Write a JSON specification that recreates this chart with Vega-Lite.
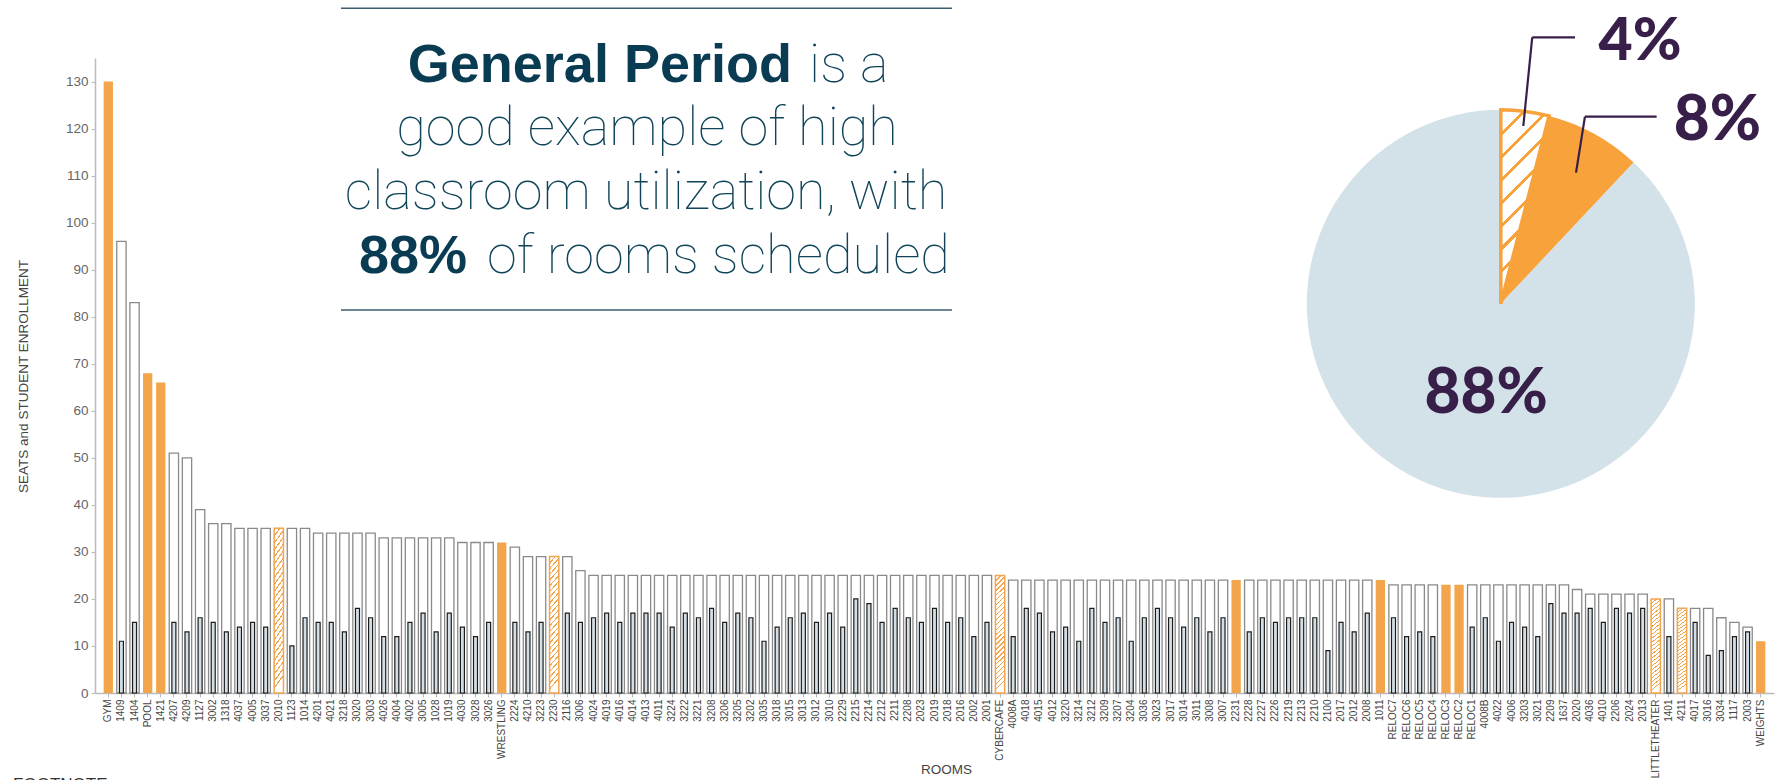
{
  "$schema": "https://vega.github.io/schema/vega-lite/v6.json",
  "width": 1679,
  "height": 635,
  "autosize": "none",
  "padding": {"left": 95, "top": 58, "right": 9, "bottom": 87},
  "background": "#ffffff",
  "config": {"view": {"stroke": null}, "font": "Liberation Sans"},
  "resolve": {"scale": {"x": "independent", "y": "independent"}},
  "layer": [
    {
      "data": {"values": [
        {"room":"GYM","seats":130,"status":"unscheduled"},
        {"room":"1409","seats":96,"enrolled":11,"status":"scheduled"},
        {"room":"1404","seats":83,"enrolled":15,"status":"scheduled"},
        {"room":"POOL","seats":68,"status":"unscheduled"},
        {"room":"1421","seats":66,"status":"unscheduled"},
        {"room":"4207","seats":51,"enrolled":15,"status":"scheduled"},
        {"room":"4209","seats":50,"enrolled":13,"status":"scheduled"},
        {"room":"1127","seats":39,"enrolled":16,"status":"scheduled"},
        {"room":"3002","seats":36,"enrolled":15,"status":"scheduled"},
        {"room":"1318","seats":36,"enrolled":13,"status":"scheduled"},
        {"room":"4037","seats":35,"enrolled":14,"status":"scheduled"},
        {"room":"4005","seats":35,"enrolled":15,"status":"scheduled"},
        {"room":"3037","seats":35,"enrolled":14,"status":"scheduled"},
        {"room":"2010","seats":35,"status":"other"},
        {"room":"1123","seats":35,"enrolled":10,"status":"scheduled"},
        {"room":"1014","seats":35,"enrolled":16,"status":"scheduled"},
        {"room":"4201","seats":34,"enrolled":15,"status":"scheduled"},
        {"room":"4021","seats":34,"enrolled":15,"status":"scheduled"},
        {"room":"3218","seats":34,"enrolled":13,"status":"scheduled"},
        {"room":"3020","seats":34,"enrolled":18,"status":"scheduled"},
        {"room":"3003","seats":34,"enrolled":16,"status":"scheduled"},
        {"room":"4026","seats":33,"enrolled":12,"status":"scheduled"},
        {"room":"4004","seats":33,"enrolled":12,"status":"scheduled"},
        {"room":"4002","seats":33,"enrolled":15,"status":"scheduled"},
        {"room":"3005","seats":33,"enrolled":17,"status":"scheduled"},
        {"room":"1028","seats":33,"enrolled":13,"status":"scheduled"},
        {"room":"1019","seats":33,"enrolled":17,"status":"scheduled"},
        {"room":"4030","seats":32,"enrolled":14,"status":"scheduled"},
        {"room":"3028","seats":32,"enrolled":12,"status":"scheduled"},
        {"room":"3026","seats":32,"enrolled":15,"status":"scheduled"},
        {"room":"WRESTLING","seats":32,"status":"unscheduled"},
        {"room":"2224","seats":31,"enrolled":15,"status":"scheduled"},
        {"room":"4210","seats":29,"enrolled":13,"status":"scheduled"},
        {"room":"3223","seats":29,"enrolled":15,"status":"scheduled"},
        {"room":"2230","seats":29,"status":"other"},
        {"room":"2116","seats":29,"enrolled":17,"status":"scheduled"},
        {"room":"3006","seats":26,"enrolled":15,"status":"scheduled"},
        {"room":"4024","seats":25,"enrolled":16,"status":"scheduled"},
        {"room":"4019","seats":25,"enrolled":17,"status":"scheduled"},
        {"room":"4016","seats":25,"enrolled":15,"status":"scheduled"},
        {"room":"4014","seats":25,"enrolled":17,"status":"scheduled"},
        {"room":"4013","seats":25,"enrolled":17,"status":"scheduled"},
        {"room":"4011","seats":25,"enrolled":17,"status":"scheduled"},
        {"room":"3224","seats":25,"enrolled":14,"status":"scheduled"},
        {"room":"3222","seats":25,"enrolled":17,"status":"scheduled"},
        {"room":"3221","seats":25,"enrolled":16,"status":"scheduled"},
        {"room":"3208","seats":25,"enrolled":18,"status":"scheduled"},
        {"room":"3206","seats":25,"enrolled":15,"status":"scheduled"},
        {"room":"3205","seats":25,"enrolled":17,"status":"scheduled"},
        {"room":"3202","seats":25,"enrolled":16,"status":"scheduled"},
        {"room":"3035","seats":25,"enrolled":11,"status":"scheduled"},
        {"room":"3018","seats":25,"enrolled":14,"status":"scheduled"},
        {"room":"3015","seats":25,"enrolled":16,"status":"scheduled"},
        {"room":"3013","seats":25,"enrolled":17,"status":"scheduled"},
        {"room":"3012","seats":25,"enrolled":15,"status":"scheduled"},
        {"room":"3010","seats":25,"enrolled":17,"status":"scheduled"},
        {"room":"2229","seats":25,"enrolled":14,"status":"scheduled"},
        {"room":"2215","seats":25,"enrolled":20,"status":"scheduled"},
        {"room":"2214","seats":25,"enrolled":19,"status":"scheduled"},
        {"room":"2212","seats":25,"enrolled":15,"status":"scheduled"},
        {"room":"2211","seats":25,"enrolled":18,"status":"scheduled"},
        {"room":"2208","seats":25,"enrolled":16,"status":"scheduled"},
        {"room":"2023","seats":25,"enrolled":15,"status":"scheduled"},
        {"room":"2019","seats":25,"enrolled":18,"status":"scheduled"},
        {"room":"2018","seats":25,"enrolled":15,"status":"scheduled"},
        {"room":"2016","seats":25,"enrolled":16,"status":"scheduled"},
        {"room":"2002","seats":25,"enrolled":12,"status":"scheduled"},
        {"room":"2001","seats":25,"enrolled":15,"status":"scheduled"},
        {"room":"CYBERCAFE","seats":25,"status":"other"},
        {"room":"4008A","seats":24,"enrolled":12,"status":"scheduled"},
        {"room":"4018","seats":24,"enrolled":18,"status":"scheduled"},
        {"room":"4015","seats":24,"enrolled":17,"status":"scheduled"},
        {"room":"4012","seats":24,"enrolled":13,"status":"scheduled"},
        {"room":"3220","seats":24,"enrolled":14,"status":"scheduled"},
        {"room":"3214","seats":24,"enrolled":11,"status":"scheduled"},
        {"room":"3212","seats":24,"enrolled":18,"status":"scheduled"},
        {"room":"3209","seats":24,"enrolled":15,"status":"scheduled"},
        {"room":"3207","seats":24,"enrolled":16,"status":"scheduled"},
        {"room":"3204","seats":24,"enrolled":11,"status":"scheduled"},
        {"room":"3036","seats":24,"enrolled":16,"status":"scheduled"},
        {"room":"3023","seats":24,"enrolled":18,"status":"scheduled"},
        {"room":"3017","seats":24,"enrolled":16,"status":"scheduled"},
        {"room":"3014","seats":24,"enrolled":14,"status":"scheduled"},
        {"room":"3011","seats":24,"enrolled":16,"status":"scheduled"},
        {"room":"3008","seats":24,"enrolled":13,"status":"scheduled"},
        {"room":"3007","seats":24,"enrolled":16,"status":"scheduled"},
        {"room":"2231","seats":24,"status":"unscheduled"},
        {"room":"2228","seats":24,"enrolled":13,"status":"scheduled"},
        {"room":"2227","seats":24,"enrolled":16,"status":"scheduled"},
        {"room":"2226","seats":24,"enrolled":15,"status":"scheduled"},
        {"room":"2219","seats":24,"enrolled":16,"status":"scheduled"},
        {"room":"2213","seats":24,"enrolled":16,"status":"scheduled"},
        {"room":"2210","seats":24,"enrolled":16,"status":"scheduled"},
        {"room":"2100","seats":24,"enrolled":9,"status":"scheduled"},
        {"room":"2017","seats":24,"enrolled":15,"status":"scheduled"},
        {"room":"2012","seats":24,"enrolled":13,"status":"scheduled"},
        {"room":"2008","seats":24,"enrolled":17,"status":"scheduled"},
        {"room":"1011","seats":24,"status":"unscheduled"},
        {"room":"RELOC7","seats":23,"enrolled":16,"status":"scheduled"},
        {"room":"RELOC6","seats":23,"enrolled":12,"status":"scheduled"},
        {"room":"RELOC5","seats":23,"enrolled":13,"status":"scheduled"},
        {"room":"RELOC4","seats":23,"enrolled":12,"status":"scheduled"},
        {"room":"RELOC3","seats":23,"status":"unscheduled"},
        {"room":"RELOC2","seats":23,"status":"unscheduled"},
        {"room":"RELOC1","seats":23,"enrolled":14,"status":"scheduled"},
        {"room":"4008B","seats":23,"enrolled":16,"status":"scheduled"},
        {"room":"4022","seats":23,"enrolled":11,"status":"scheduled"},
        {"room":"4006","seats":23,"enrolled":15,"status":"scheduled"},
        {"room":"3203","seats":23,"enrolled":14,"status":"scheduled"},
        {"room":"3021","seats":23,"enrolled":12,"status":"scheduled"},
        {"room":"2209","seats":23,"enrolled":19,"status":"scheduled"},
        {"room":"1637","seats":23,"enrolled":17,"status":"scheduled"},
        {"room":"2020","seats":22,"enrolled":17,"status":"scheduled"},
        {"room":"4036","seats":21,"enrolled":18,"status":"scheduled"},
        {"room":"4010","seats":21,"enrolled":15,"status":"scheduled"},
        {"room":"2206","seats":21,"enrolled":18,"status":"scheduled"},
        {"room":"2024","seats":21,"enrolled":17,"status":"scheduled"},
        {"room":"2013","seats":21,"enrolled":18,"status":"scheduled"},
        {"room":"LITTLETHEATER","seats":20,"status":"other"},
        {"room":"1401","seats":20,"enrolled":12,"status":"scheduled"},
        {"room":"4211","seats":18,"status":"other"},
        {"room":"4017","seats":18,"enrolled":15,"status":"scheduled"},
        {"room":"3016","seats":18,"enrolled":8,"status":"scheduled"},
        {"room":"3034","seats":16,"enrolled":9,"status":"scheduled"},
        {"room":"1117","seats":15,"enrolled":12,"status":"scheduled"},
        {"room":"2003","seats":14,"enrolled":13,"status":"scheduled"},
        {"room":"WEIGHTS","seats":11,"status":"unscheduled"}
      ]},
      "encoding": {
        "x": {
          "field": "room", "type": "nominal",
          "scale": {
            "domain": ["GYM","1409","1404","POOL","1421","4207","4209","1127","3002","1318","4037","4005","3037","2010","1123","1014","4201","4021","3218","3020","3003","4026","4004","4002","3005","1028","1019","4030","3028","3026","WRESTLING","2224","4210","3223","2230","2116","3006","4024","4019","4016","4014","4013","4011","3224","3222","3221","3208","3206","3205","3202","3035","3018","3015","3013","3012","3010","2229","2215","2214","2212","2211","2208","2023","2019","2018","2016","2002","2001","CYBERCAFE","4008A","4018","4015","4012","3220","3214","3212","3209","3207","3204","3036","3023","3017","3014","3011","3008","3007","2231","2228","2227","2226","2219","2213","2210","2100","2017","2012","2008","1011","RELOC7","RELOC6","RELOC5","RELOC4","RELOC3","RELOC2","RELOC1","4008B","4022","4006","3203","3021","2209","1637","2020","4036","4010","2206","2024","2013","LITTLETHEATER","1401","4211","4017","3016","3034","1117","2003","WEIGHTS"],
            "paddingInner": 0.29, "paddingOuter": 0.66
          },
          "axis": {
            "title": "ROOMS", "titleFont": "Liberation Sans", "titleFontSize": 13.5, "titleFontWeight": "normal", "titleColor": "#444444",
            "titleX": 851, "titleY": 80, "titleAlign": "center", "titleBaseline": "alphabetic",
            "labelAngle": 270, "labelAlign": "right", "labelBaseline": "middle", "labelFont": "Liberation Sans", "labelFontSize": 10,
            "labelColor": "#444444", "labelPadding": 2, "labelOverlap": false, "labelLimit": 0,
            "tickSize": 4, "tickColor": "#bbbbbb", "domainColor": "#bbbbbb", "domainWidth": 1.5, "grid": false
          }
        },
        "y": {
          "field": "seats", "type": "quantitative",
          "scale": {"domain": [0, 135], "nice": false, "zero": true},
          "axis": {
            "title": "SEATS and STUDENT ENROLLMENT", "values": [0,10,20,30,40,50,60,70,80,90,100,110,120,130],
            "titleFont": "Liberation Sans", "titleFontSize": 13.5, "titleFontWeight": "normal", "titleColor": "#444444",
            "titleAngle": 270, "titleX": -72, "titleY": 318, "titleAlign": "center", "titleBaseline": "middle",
            "labelFont": "Liberation Sans", "labelFontSize": 13.5, "labelColor": "#666666", "labelPadding": 3,
            "tickSize": 4, "tickColor": "#bbbbbb", "domainColor": "#bbbbbb", "domainWidth": 1.5, "grid": false
          }
        }
      },
      "layer": [
        {
          "transform": [{"filter": "datum.status === 'scheduled'"}],
          "mark": {"type": "bar", "fill": "#ffffff", "stroke": "#8a8a8a", "strokeWidth": 1.3}
        },
        {
          "transform": [{"filter": "datum.status === 'unscheduled'"}],
          "mark": {"type": "bar", "fill": "#f2a54a"}
        },
        {
          "transform": [{"filter": "datum.status === 'other'"}],
          "mark": {"type": "bar", "stroke": "#f2a54a", "strokeWidth": 1.5,
            "fill": {"gradient": "linear", "x1": 0, "y1": 0, "x2": 0.078, "y2": 1, "stops": [
              {"offset":0,"color":"#f2a54a"},{"offset":0.0117,"color":"#f2a54a"},{"offset":0.0117,"color":"#ffffff"},{"offset":0.0417,"color":"#ffffff"},
              {"offset":0.0417,"color":"#f2a54a"},{"offset":0.0534,"color":"#f2a54a"},{"offset":0.0534,"color":"#ffffff"},{"offset":0.0833,"color":"#ffffff"},
              {"offset":0.0833,"color":"#f2a54a"},{"offset":0.095,"color":"#f2a54a"},{"offset":0.095,"color":"#ffffff"},{"offset":0.125,"color":"#ffffff"},
              {"offset":0.125,"color":"#f2a54a"},{"offset":0.1367,"color":"#f2a54a"},{"offset":0.1367,"color":"#ffffff"},{"offset":0.1667,"color":"#ffffff"},
              {"offset":0.1667,"color":"#f2a54a"},{"offset":0.1784,"color":"#f2a54a"},{"offset":0.1784,"color":"#ffffff"},{"offset":0.2083,"color":"#ffffff"},
              {"offset":0.2083,"color":"#f2a54a"},{"offset":0.22,"color":"#f2a54a"},{"offset":0.22,"color":"#ffffff"},{"offset":0.25,"color":"#ffffff"},
              {"offset":0.25,"color":"#f2a54a"},{"offset":0.2617,"color":"#f2a54a"},{"offset":0.2617,"color":"#ffffff"},{"offset":0.2917,"color":"#ffffff"},
              {"offset":0.2917,"color":"#f2a54a"},{"offset":0.3034,"color":"#f2a54a"},{"offset":0.3034,"color":"#ffffff"},{"offset":0.3333,"color":"#ffffff"},
              {"offset":0.3333,"color":"#f2a54a"},{"offset":0.345,"color":"#f2a54a"},{"offset":0.345,"color":"#ffffff"},{"offset":0.375,"color":"#ffffff"},
              {"offset":0.375,"color":"#f2a54a"},{"offset":0.3867,"color":"#f2a54a"},{"offset":0.3867,"color":"#ffffff"},{"offset":0.4167,"color":"#ffffff"},
              {"offset":0.4167,"color":"#f2a54a"},{"offset":0.4284,"color":"#f2a54a"},{"offset":0.4284,"color":"#ffffff"},{"offset":0.4583,"color":"#ffffff"},
              {"offset":0.4583,"color":"#f2a54a"},{"offset":0.47,"color":"#f2a54a"},{"offset":0.47,"color":"#ffffff"},{"offset":0.5,"color":"#ffffff"},
              {"offset":0.5,"color":"#f2a54a"},{"offset":0.5117,"color":"#f2a54a"},{"offset":0.5117,"color":"#ffffff"},{"offset":0.5417,"color":"#ffffff"},
              {"offset":0.5417,"color":"#f2a54a"},{"offset":0.5534,"color":"#f2a54a"},{"offset":0.5534,"color":"#ffffff"},{"offset":0.5833,"color":"#ffffff"},
              {"offset":0.5833,"color":"#f2a54a"},{"offset":0.595,"color":"#f2a54a"},{"offset":0.595,"color":"#ffffff"},{"offset":0.625,"color":"#ffffff"},
              {"offset":0.625,"color":"#f2a54a"},{"offset":0.6367,"color":"#f2a54a"},{"offset":0.6367,"color":"#ffffff"},{"offset":0.6667,"color":"#ffffff"},
              {"offset":0.6667,"color":"#f2a54a"},{"offset":0.6784,"color":"#f2a54a"},{"offset":0.6784,"color":"#ffffff"},{"offset":0.7083,"color":"#ffffff"},
              {"offset":0.7083,"color":"#f2a54a"},{"offset":0.72,"color":"#f2a54a"},{"offset":0.72,"color":"#ffffff"},{"offset":0.75,"color":"#ffffff"},
              {"offset":0.75,"color":"#f2a54a"},{"offset":0.7617,"color":"#f2a54a"},{"offset":0.7617,"color":"#ffffff"},{"offset":0.7917,"color":"#ffffff"},
              {"offset":0.7917,"color":"#f2a54a"},{"offset":0.8034,"color":"#f2a54a"},{"offset":0.8034,"color":"#ffffff"},{"offset":0.8333,"color":"#ffffff"},
              {"offset":0.8333,"color":"#f2a54a"},{"offset":0.845,"color":"#f2a54a"},{"offset":0.845,"color":"#ffffff"},{"offset":0.875,"color":"#ffffff"},
              {"offset":0.875,"color":"#f2a54a"},{"offset":0.8867,"color":"#f2a54a"},{"offset":0.8867,"color":"#ffffff"},{"offset":0.9167,"color":"#ffffff"},
              {"offset":0.9167,"color":"#f2a54a"},{"offset":0.9284,"color":"#f2a54a"},{"offset":0.9284,"color":"#ffffff"},{"offset":0.9583,"color":"#ffffff"},
              {"offset":0.9583,"color":"#f2a54a"},{"offset":0.97,"color":"#f2a54a"},{"offset":0.97,"color":"#ffffff"},{"offset":1,"color":"#ffffff"}
            ]}
          }
        },
        {
          "transform": [{"filter": "datum.status === 'scheduled'"}],
          "mark": {"type": "bar", "fill": "#d3dfe6", "stroke": "#1c1c1c", "strokeWidth": 1.2, "width": {"band": 0.43}},
          "encoding": {"y": {"field": "enrolled", "type": "quantitative"}}
        }
      ]
    },
    {
      "data": {"values": [{}]},
      "layer": [
        {
          "data": {"values": [
            {"group": "Other", "share": 4},
            {"group": "Unscheduled", "share": 8},
            {"group": "Scheduled", "share": 88}
          ]},
          "layer": [
            {
              "mark": {"type": "arc", "radius": 194},
              "encoding": {
                "theta": {"field": "share", "type": "quantitative", "stack": true},
                "order": {"field": "share", "type": "quantitative", "sort": "ascending"},
                "fill": {"field": "group", "type": "nominal", "scale": {"domain": ["Other", "Unscheduled", "Scheduled"], "range": ["#ffffff", "#f7a23b", "#d3e1e8"]}, "legend": null},
                "x": {"datum": 83.73, "type": "quantitative", "scale": {"domain": [0, 100], "nice": false, "zero": false}, "axis": null},
                "y": {"datum": 61.29, "type": "quantitative", "scale": {"domain": [0, 100], "nice": false, "zero": false}, "axis": null}
              }
            },
            {
              "mark": {"type": "arc", "radius": 194, "stroke": "#f7a23b", "strokeWidth": 3.5,
                "fill": {"gradient": "linear", "x1": 0, "y1": 0, "x2": 0.248, "y2": 1, "stops": [
                  {"offset":0,"color":"#f7a23b"},{"offset":0.02,"color":"#f7a23b"},{"offset":0.02,"color":"#ffffff"},{"offset":0.1111,"color":"#ffffff"},
                  {"offset":0.1111,"color":"#f7a23b"},{"offset":0.1311,"color":"#f7a23b"},{"offset":0.1311,"color":"#ffffff"},{"offset":0.2222,"color":"#ffffff"},
                  {"offset":0.2222,"color":"#f7a23b"},{"offset":0.2422,"color":"#f7a23b"},{"offset":0.2422,"color":"#ffffff"},{"offset":0.3333,"color":"#ffffff"},
                  {"offset":0.3333,"color":"#f7a23b"},{"offset":0.3533,"color":"#f7a23b"},{"offset":0.3533,"color":"#ffffff"},{"offset":0.4444,"color":"#ffffff"},
                  {"offset":0.4444,"color":"#f7a23b"},{"offset":0.4644,"color":"#f7a23b"},{"offset":0.4644,"color":"#ffffff"},{"offset":0.5556,"color":"#ffffff"},
                  {"offset":0.5556,"color":"#f7a23b"},{"offset":0.5756,"color":"#f7a23b"},{"offset":0.5756,"color":"#ffffff"},{"offset":0.6667,"color":"#ffffff"},
                  {"offset":0.6667,"color":"#f7a23b"},{"offset":0.6867,"color":"#f7a23b"},{"offset":0.6867,"color":"#ffffff"},{"offset":0.7778,"color":"#ffffff"},
                  {"offset":0.7778,"color":"#f7a23b"},{"offset":0.7978,"color":"#f7a23b"},{"offset":0.7978,"color":"#ffffff"},{"offset":0.8889,"color":"#ffffff"},
                  {"offset":0.8889,"color":"#f7a23b"},{"offset":0.9089,"color":"#f7a23b"},{"offset":0.9089,"color":"#ffffff"},{"offset":1,"color":"#ffffff"}
                ]}
              },
              "encoding": {
                "theta": {"field": "share", "type": "quantitative", "stack": true},
                "order": {"field": "share", "type": "quantitative", "sort": "ascending"},
                "opacity": {"condition": {"test": "datum.group === 'Other'", "value": 1}, "value": 0},
                "x": {"datum": 83.73, "type": "quantitative", "scale": {"domain": [0, 100], "nice": false, "zero": false}, "axis": null},
                "y": {"datum": 61.29, "type": "quantitative", "scale": {"domain": [0, 100], "nice": false, "zero": false}, "axis": null}
              }
            }
          ]
        },
        {
          "mark": {"type": "rule", "stroke": "#3a5d6e", "strokeWidth": 1.5},
          "encoding": {
            "x": {"datum": 14.65, "type": "quantitative", "scale": {"domain": [0, 100], "nice": false, "zero": false}, "axis": null},
            "x2": {"datum": 51.04},
            "y": {"datum": 107.83, "type": "quantitative", "scale": {"domain": [0, 100], "nice": false, "zero": false}, "axis": null}
          }
        },
        {
          "mark": {"type": "rule", "stroke": "#3a5d6e", "strokeWidth": 1.5},
          "encoding": {
            "x": {"datum": 14.65, "type": "quantitative", "scale": {"domain": [0, 100], "nice": false, "zero": false}, "axis": null},
            "x2": {"datum": 51.04},
            "y": {"datum": 60.31, "type": "quantitative", "scale": {"domain": [0, 100], "nice": false, "zero": false}, "axis": null}
          }
        },
        {
          "mark": {"type": "text", "text": "General Period", "font": "Liberation Sans", "fontSize": 54, "fontWeight": "bold", "color": "#093c52", "align": "right", "baseline": "alphabetic"},
          "encoding": {
            "x": {"datum": 41.51, "type": "quantitative", "scale": {"domain": [0, 100], "nice": false, "zero": false}, "axis": null},
            "y": {"datum": 96.27, "type": "quantitative", "scale": {"domain": [0, 100], "nice": false, "zero": false}, "axis": null}
          }
        },
        {
          "mark": {"type": "text", "text": "is a", "font": "Roboto", "fontSize": 54, "fontWeight": 100, "color": "#0f4459", "align": "left", "baseline": "alphabetic"},
          "encoding": {
            "x": {"datum": 42.53, "type": "quantitative", "scale": {"domain": [0, 100], "nice": false, "zero": false}, "axis": null},
            "y": {"datum": 96.27, "type": "quantitative", "scale": {"domain": [0, 100], "nice": false, "zero": false}, "axis": null}
          }
        },
        {
          "mark": {"type": "text", "text": "good example of high", "font": "Roboto", "fontSize": 54, "fontWeight": 100, "color": "#0f4459", "align": "center", "baseline": "alphabetic"},
          "encoding": {
            "x": {"datum": 32.88, "type": "quantitative", "scale": {"domain": [0, 100], "nice": false, "zero": false}, "axis": null},
            "y": {"datum": 86.30, "type": "quantitative", "scale": {"domain": [0, 100], "nice": false, "zero": false}, "axis": null}
          }
        },
        {
          "mark": {"type": "text", "text": "classroom utilization, with", "font": "Roboto", "fontSize": 54, "fontWeight": 100, "color": "#0f4459", "align": "center", "baseline": "alphabetic"},
          "encoding": {
            "x": {"datum": 32.82, "type": "quantitative", "scale": {"domain": [0, 100], "nice": false, "zero": false}, "axis": null},
            "y": {"datum": 76.17, "type": "quantitative", "scale": {"domain": [0, 100], "nice": false, "zero": false}, "axis": null}
          }
        },
        {
          "mark": {"type": "text", "text": "88%", "font": "Liberation Sans", "fontSize": 54, "fontWeight": "bold", "color": "#093c52", "align": "right", "baseline": "alphabetic"},
          "encoding": {
            "x": {"datum": 22.16, "type": "quantitative", "scale": {"domain": [0, 100], "nice": false, "zero": false}, "axis": null},
            "y": {"datum": 66.19, "type": "quantitative", "scale": {"domain": [0, 100], "nice": false, "zero": false}, "axis": null}
          }
        },
        {
          "mark": {"type": "text", "text": "of rooms scheduled", "font": "Roboto", "fontSize": 54, "fontWeight": 100, "color": "#0f4459", "align": "left", "baseline": "alphabetic"},
          "encoding": {
            "x": {"datum": 23.35, "type": "quantitative", "scale": {"domain": [0, 100], "nice": false, "zero": false}, "axis": null},
            "y": {"datum": 66.19, "type": "quantitative", "scale": {"domain": [0, 100], "nice": false, "zero": false}, "axis": null}
          }
        },
        {
          "mark": {"type": "rule", "stroke": "#371f4a", "strokeWidth": 2.2},
          "encoding": {
            "x": {"datum": 85.60, "type": "quantitative", "scale": {"domain": [0, 100], "nice": false, "zero": false}, "axis": null},
            "x2": {"datum": 88.15},
            "y": {"datum": 103.26, "type": "quantitative", "scale": {"domain": [0, 100], "nice": false, "zero": false}, "axis": null}
          }
        },
        {
          "mark": {"type": "rule", "stroke": "#371f4a", "strokeWidth": 2.2},
          "encoding": {
            "x": {"datum": 85.60, "type": "quantitative", "scale": {"domain": [0, 100], "nice": false, "zero": false}, "axis": null},
            "x2": {"datum": 85.07},
            "y": {"datum": 103.26, "type": "quantitative", "scale": {"domain": [0, 100], "nice": false, "zero": false}, "axis": null},
            "y2": {"datum": 89.29}
          }
        },
        {
          "mark": {"type": "rule", "stroke": "#371f4a", "strokeWidth": 2.2},
          "encoding": {
            "x": {"datum": 88.74, "type": "quantitative", "scale": {"domain": [0, 100], "nice": false, "zero": false}, "axis": null},
            "x2": {"datum": 93.01},
            "y": {"datum": 90.76, "type": "quantitative", "scale": {"domain": [0, 100], "nice": false, "zero": false}, "axis": null}
          }
        },
        {
          "mark": {"type": "rule", "stroke": "#371f4a", "strokeWidth": 2.2},
          "encoding": {
            "x": {"datum": 88.74, "type": "quantitative", "scale": {"domain": [0, 100], "nice": false, "zero": false}, "axis": null},
            "x2": {"datum": 88.21},
            "y": {"datum": 90.76, "type": "quantitative", "scale": {"domain": [0, 100], "nice": false, "zero": false}, "axis": null},
            "y2": {"datum": 81.94}
          }
        },
        {
          "mark": {"type": "text", "text": "4%", "font": "Lato", "fontSize": 59, "fontWeight": 900, "color": "#371f4a", "align": "center", "baseline": "alphabetic"},
          "encoding": {
            "x": {"datum": 92.02, "type": "quantitative", "scale": {"domain": [0, 100], "nice": false, "zero": false}, "axis": null},
            "y": {"datum": 99.76, "type": "quantitative", "scale": {"domain": [0, 100], "nice": false, "zero": false}, "axis": null}
          }
        },
        {
          "mark": {"type": "text", "text": "8%", "font": "Lato", "fontSize": 62, "fontWeight": 900, "color": "#371f4a", "align": "center", "baseline": "alphabetic"},
          "encoding": {
            "x": {"datum": 96.63, "type": "quantitative", "scale": {"domain": [0, 100], "nice": false, "zero": false}, "axis": null},
            "y": {"datum": 87.09, "type": "quantitative", "scale": {"domain": [0, 100], "nice": false, "zero": false}, "axis": null}
          }
        },
        {
          "mark": {"type": "text", "text": "88%", "font": "Lato", "fontSize": 62, "fontWeight": 900, "color": "#371f4a", "align": "center", "baseline": "alphabetic"},
          "encoding": {
            "x": {"datum": 82.85, "type": "quantitative", "scale": {"domain": [0, 100], "nice": false, "zero": false}, "axis": null},
            "y": {"datum": 44.05, "type": "quantitative", "scale": {"domain": [0, 100], "nice": false, "zero": false}, "axis": null}
          }
        },
        {
          "mark": {"type": "text", "text": "FOOTNOTE", "font": "Liberation Sans", "fontSize": 17, "color": "#333333", "align": "left", "baseline": "alphabetic"},
          "encoding": {
            "x": {"datum": -4.88, "type": "quantitative", "scale": {"domain": [0, 100], "nice": false, "zero": false}, "axis": null},
            "y": {"datum": -15.28, "type": "quantitative", "scale": {"domain": [0, 100], "nice": false, "zero": false}, "axis": null}
          }
        }
      ]
    }
  ]
}
